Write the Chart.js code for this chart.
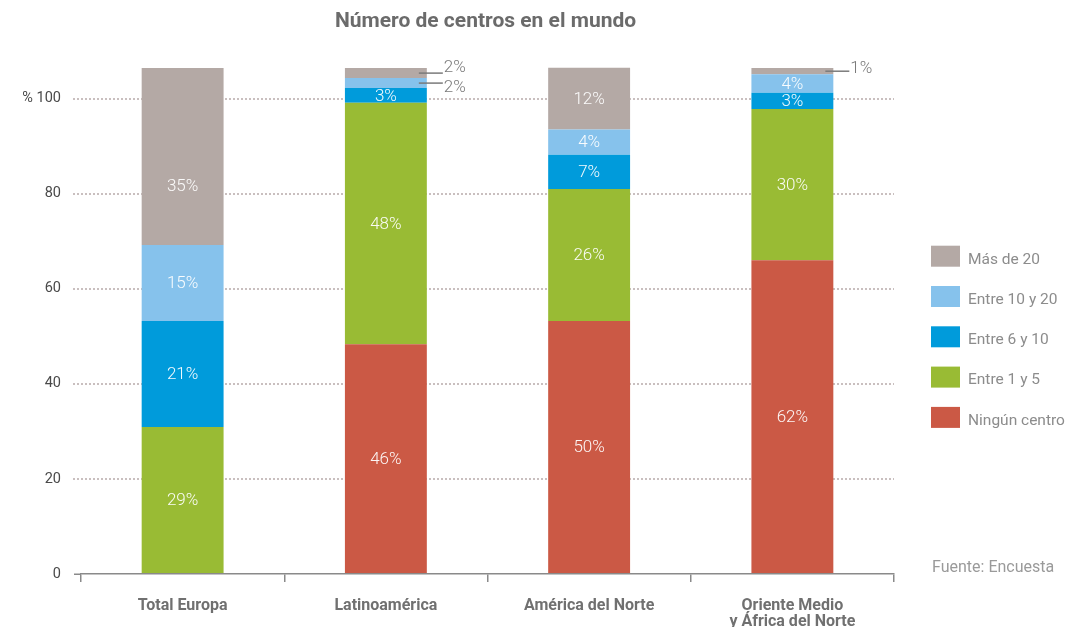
<!DOCTYPE html>
<html><head><meta charset="utf-8">
<style>html,body{margin:0;padding:0;background:#fff;}canvas{display:block;}</style>
<script src="https://cdn.jsdelivr.net/npm/chart.js@4.4.1/dist/chart.umd.min.js"></script>
</head><body>
<canvas id="c" width="1073" height="627"></canvas>
<script>
// ---- data (segment heights as drawn) ----
const categories = ['Total Europa', 'Latinoamérica', 'América del Norte', ['Oriente Medio', 'y África del Norte']];
const seriesNames = ['Ningún centro', 'Entre 1 y 5', 'Entre 6 y 10', 'Entre 10 y 20', 'Más de 20'];
const ningunCentro = [0, 48.3, 53.2, 66.0];
const entre1y5 = [30.9, 50.8, 27.8, 31.8];
const entre6y10 = [22.3, 3.1, 7.2, 3.4];
const entre10y20 = [16.0, 2.1, 5.3, 3.9];
const masDe20 = [37.2, 2.1, 13.0, 1.3];
// printed percentages
const pctNingun = [null, 46, 50, 62];
const pctEntre1y5 = [29, 48, 26, 30];
const pctEntre6y10 = [21, 3, 7, 3];
const pctEntre10y20 = [15, 2, 4, 4];
const pctMas20 = [35, 2, 12, 1];
const yTicks = [0, 20, 40, 60, 80, 100];
const titleText = 'Número de centros en el mundo';
const sourceText = 'Fuente: Encuesta';

const colors = ['#cb5945', '#99bb34', '#009bdb', '#86c2ec', '#b4a9a5'];
const seriesValues = [ningunCentro, entre1y5, entre6y10, entre10y20, masDe20];
const seriesPct = [pctNingun, pctEntre1y5, pctEntre6y10, pctEntre10y20, pctMas20];

Chart.defaults.font.family = 'Roboto, "Noto Sans", sans-serif';

const extras = {
  id: 'extras',
  afterDatasetsDraw(chart, args, opts) {
    const ctx = chart.ctx;
    ctx.save();
    chart.data.datasets.forEach((ds, i) => {
      const meta = chart.getDatasetMeta(i);
      meta.data.forEach((el, j) => {
        const p = ds.pct[j];
        if (p == null) return;
        const {x, y, base} = el.getProps(['x', 'y', 'base'], true);
        const h = base - y;
        if (h < 12) return;
        let ty = (y + base) / 2 + 1;
        (opts.nudges || []).forEach(n => { if (n.series === i && n.index === j) ty += n.dy; });
        ctx.font = '300 17px Roboto';
        ctx.fillStyle = 'rgba(255,255,255,0.95)';
        ctx.textAlign = 'center';
        ctx.textBaseline = 'middle';
        ctx.fillText(p + '%', x, ty);
      });
    });
    // small segments: labels outside with leader lines
    const nCat = chart.data.labels.length;
    for (let j = 0; j < nCat; j++) {
      const items = [];
      chart.data.datasets.forEach((ds, i) => {
        const p = ds.pct[j];
        if (p == null) return;
        const el = chart.getDatasetMeta(i).data[j];
        const {x, y, base, width} = el.getProps(['x', 'y', 'base', 'width'], true);
        if (base - y < 12 && base - y > 0) items.push({p, yc: (y + base) / 2, right: x + width / 2});
      });
      if (!items.length) continue;
      items.sort((a, b) => a.yc - b.yc);
      const mean = items.reduce((s, it) => s + it.yc, 0) / items.length;
      items.forEach((it, k) => {
        const ty = items.length > 1 ? mean + (k - (items.length - 1) / 2) * 20 : it.yc - 2;
        ctx.strokeStyle = '#7a7a7a';
        ctx.lineWidth = 1.5;
        ctx.beginPath();
        ctx.moveTo(it.right - 8, it.yc);
        ctx.lineTo(it.right + 16, it.yc);
        ctx.stroke();
        ctx.font = '300 17px Roboto';
        ctx.fillStyle = '#7a7a7a';
        ctx.textAlign = 'left';
        ctx.textBaseline = 'middle';
        ctx.fillText(it.p + '%', it.right + 17, ty);
      });
    }
    ctx.restore();
  },
  afterDraw(chart) {
    const ctx = chart.ctx;
    const a = chart.chartArea;
    ctx.save();
    // axis line extension to the left
    ctx.strokeStyle = '#8a8a8a';
    ctx.lineWidth = 1.5;
    ctx.beginPath();
    ctx.moveTo(74, a.bottom + 0.25);
    ctx.lineTo(a.left, a.bottom + 0.25);
    ctx.stroke();
    // title
    ctx.font = 'bold 21px Roboto';
    ctx.fillStyle = '#6b6b6b';
    ctx.textAlign = 'center';
    ctx.textBaseline = 'middle';
    ctx.fillText(titleText, (a.left + a.right) / 2 - 2, 22);
    // legend
    const ds = chart.data.datasets;
    for (let k = 0; k < ds.length; k++) {
      const d = ds[ds.length - 1 - k];
      const top = 245.7 + 40.3 * k;
      ctx.fillStyle = d.backgroundColor;
      ctx.fillRect(931, top, 29, 21);
      ctx.font = '15.5px Roboto';
      ctx.fillStyle = '#8c8c8c';
      ctx.textAlign = 'left';
      ctx.textBaseline = 'middle';
      ctx.fillText(d.label, 968, top + 14);
    }
    // source
    ctx.font = '16px Roboto';
    ctx.fillStyle = '#9a9a9a';
    ctx.textAlign = 'left';
    ctx.textBaseline = 'middle';
    ctx.fillText(sourceText, 932, 568);
    ctx.restore();
  }
};

new Chart(document.getElementById('c'), {
  type: 'bar',
  data: {
    labels: categories,
    datasets: seriesNames.map((name, i) => ({
      label: name,
      data: seriesValues[i],
      pct: seriesPct[i],
      backgroundColor: colors[i],
      borderWidth: 0,
      barPercentage: 0.403,
      categoryPercentage: 1
    }))
  },
  options: {
    responsive: false,
    devicePixelRatio: 1,
    animation: false,
    layout: {padding: {left: 0, right: 179, top: 51, bottom: 0}},
    plugins: {
      legend: {display: false}, tooltip: {enabled: false}, title: {display: false},
      extras: {nudges: [{series: 4, index: 0, dy: 29}]}
    },
    scales: {
      x: {
        stacked: true,
        afterFit(s) { s.height = 53; },
        grid: {offset: true, drawOnChartArea: false, drawTicks: true, tickLength: 8, color: '#8a8a8a', lineWidth: 1.5},
        border: {display: true, color: '#8a8a8a', width: 1.5},
        ticks: {
          autoSkip: false, maxRotation: 0, minRotation: 0, padding: 15.7,
          color: '#707070',
          font: {size: 16, weight: 'bold', lineHeight: 1}
        }
      },
      y: {
        stacked: true,
        min: 0, max: 110,
        afterFit(s) { s.width = 81; },
        afterBuildTicks(s) { s.ticks = yTicks.map(v => ({value: v})); },
        grid: {
          color: c => (c.tick && c.tick.value === 0) ? 'rgba(0,0,0,0)' : '#c9bfbf',
          lineWidth: 2, drawTicks: true, tickLength: 8,
          tickBorderDash: [2, 2]
        },
        border: {display: false, dash: [2, 2]},
        ticks: {
          padding: 12, color: '#4a4a4a',
          font: {size: 14.5},
          callback: v => v === 100 ? '% 100' : String(v)
        }
      }
    }
  },
  plugins: [extras]
});
</script>
</body></html>
